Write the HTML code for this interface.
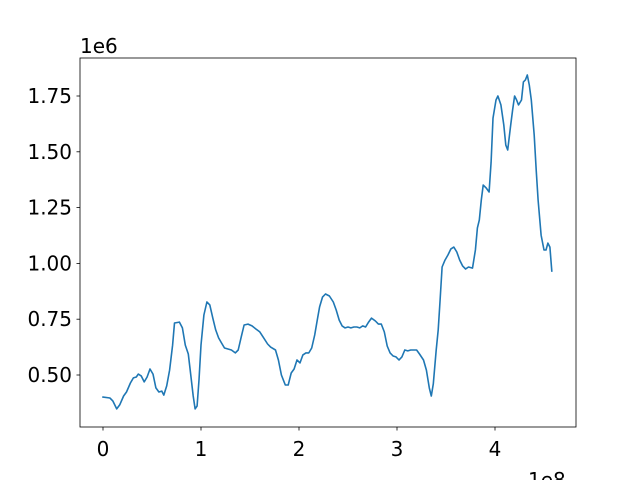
<!DOCTYPE html>
<html><head><meta charset="utf-8"><style>
body{margin:0;background:#fff;}
svg text{font-family:"DejaVu Sans","Liberation Sans",sans-serif;font-size:20px;fill:#000;}
</style></head><body>
<svg width="640" height="480">
<rect x="0" y="0" width="640" height="480" fill="#fff"/>
<g id="ticks"></g>
<path id="line" fill="none" stroke="#1f77b4" stroke-width="1.6" stroke-linejoin="round" stroke-linecap="square"/>
<rect x="80" y="58" width="496" height="369" fill="none" stroke="#000" stroke-width="0.8"/>
<text x="80" y="53">1e6</text>
<text x="528" y="487">1e8</text>
</svg>
<script>
const xs=[0,.07,.10,.14,.17,.21,.24,.28,.31,.34,.36,.39,.42,.45,.48,.51,.54,.57,.60,.62,.65,.68,.71,.73,.78,.81,.84,.87,.89,.92,.94,.96,.98,1.00,1.03,1.06,1.09,1.12,1.15,1.18,1.21,1.24,1.28,1.31,1.35,1.38,1.41,1.44,1.48,1.52,1.56,1.60,1.64,1.68,1.71,1.76,1.79,1.82,1.86,1.89,1.92,1.95,1.98,2.01,2.04,2.07,2.10,2.13,2.16,2.19,2.21,2.24,2.27,2.31,2.35,2.38,2.41,2.44,2.47,2.50,2.53,2.56,2.59,2.62,2.65,2.68,2.71,2.74,2.78,2.81,2.84,2.87,2.90,2.93,2.96,2.99,3.02,3.05,3.08,3.11,3.14,3.17,3.20,3.23,3.27,3.30,3.33,3.35,3.37,3.40,3.42,3.44,3.46,3.49,3.52,3.55,3.58,3.61,3.64,3.67,3.70,3.73,3.77,3.80,3.82,3.84,3.86,3.88,3.91,3.94,3.96,3.98,4.01,4.03,4.06,4.09,4.11,4.13,4.16,4.18,4.20,4.22,4.24,4.27,4.29,4.31,4.33,4.35,4.37,4.40,4.42,4.44,4.47,4.50,4.52,4.54,4.56,4.58];
const ys=[.401,.397,.384,.348,.366,.406,.424,.464,.487,.491,.504,.496,.469,.491,.527,.504,.442,.424,.428,.410,.451,.522,.634,.733,.737,.711,.634,.594,.522,.406,.348,.361,.478,.634,.769,.827,.814,.755,.702,.666,.643,.621,.616,.612,.599,.612,.670,.724,.728,.720,.706,.693,.666,.639,.625,.612,.567,.500,.455,.455,.509,.527,.567,.554,.590,.599,.599,.621,.679,.755,.805,.849,.863,.854,.827,.791,.746,.720,.711,.715,.711,.715,.715,.711,.720,.715,.737,.755,.742,.728,.728,.693,.630,.599,.585,.581,.567,.581,.612,.608,.612,.612,.612,.594,.567,.522,.442,.406,.460,.612,.702,.836,.984,1.015,1.038,1.065,1.073,1.051,1.015,.988,.975,.984,.979,1.060,1.159,1.194,1.284,1.351,1.338,1.320,1.454,1.651,1.732,1.750,1.710,1.620,1.530,1.508,1.620,1.687,1.750,1.732,1.710,1.732,1.813,1.822,1.844,1.799,1.732,1.575,1.418,1.284,1.127,1.060,1.060,1.091,1.073,.966];
const xTicks=[0,1,2,3,4];
const xTickLabels=["0","1","2","3","4"];
const yTicks=[0.5,0.75,1.0,1.25,1.5,1.75];
const yTickLabels=["0.50","0.75","1.00","1.25","1.50","1.75"];
function X(v){return 103+v*98;}
function Y(v){return 375-(v-0.5)*223.2;}
const NS="http://www.w3.org/2000/svg";
const g=document.getElementById('ticks');
xTicks.forEach((t,i)=>{
 const l=document.createElementNS(NS,'line');
 l.setAttribute('x1',X(t));l.setAttribute('x2',X(t));l.setAttribute('y1',427);l.setAttribute('y2',430.5);l.setAttribute('stroke','#000');l.setAttribute('stroke-width','0.8');
 
 
 g.appendChild(l);
 const tx=document.createElementNS(NS,'text');
 tx.setAttribute('x',X(t));tx.setAttribute('y',456);tx.setAttribute('text-anchor','middle');tx.textContent=xTickLabels[i];
 
 
 g.appendChild(tx);
});
yTicks.forEach((t,i)=>{
 const l=document.createElementNS(NS,'line');
 l.setAttribute('x1',76.5);l.setAttribute('x2',80);l.setAttribute('y1',Y(t));l.setAttribute('y2',Y(t));l.setAttribute('stroke','#000');l.setAttribute('stroke-width','0.8');
 
 
 g.appendChild(l);
 const tx=document.createElementNS(NS,'text');
 tx.setAttribute('x',72);tx.setAttribute('y',Y(t)+7);tx.setAttribute('text-anchor','end');tx.textContent=yTickLabels[i];
 
 
 g.appendChild(tx);
});
document.getElementById('line').setAttribute('d',xs.map((x,i)=>(i?'L':'M')+X(x).toFixed(1)+' '+Y(ys[i]).toFixed(1)).join(' '));
</script>
</body></html>
